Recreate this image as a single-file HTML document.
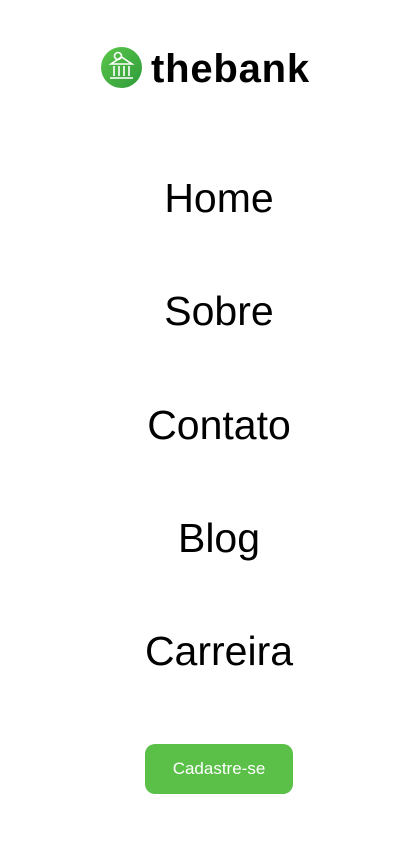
<!DOCTYPE html>
<html><head><style>
body{margin:0;width:408px;height:847px;background:#fff;font-family:"Liberation Sans",sans-serif;position:relative;overflow:hidden}
.logo{position:absolute;left:101px;top:47px;width:41px;height:41px;border-radius:50%;background:linear-gradient(135deg,#5cc84a,#2e9a3a)}
.brand{position:absolute;left:151px;top:47px;font-weight:bold;font-size:40px;letter-spacing:0.8px;color:#000}
.nav{position:absolute;left:0;width:438px;text-align:center;font-size:41px;color:#000}
.btn{position:absolute;left:145px;top:744px;width:148px;height:50px;border-radius:10px;background:#5ac047;color:#fff;font-size:17px;text-align:center;line-height:50px}
</style></head><body>
<div class="logo"><svg width="41" height="41" viewBox="0 0 41 41"><g fill="none" stroke="#fff" stroke-width="1.6"><path d="M10 17 L20.5 10 L31 17 Z"/><line x1="13" y1="19" x2="13" y2="29"/><line x1="18" y1="19" x2="18" y2="29"/><line x1="23" y1="19" x2="23" y2="29"/><line x1="28" y1="19" x2="28" y2="29"/><line x1="9" y1="31" x2="32" y2="31"/><circle cx="17" cy="9" r="3.5"/></g></svg></div>
<div class="brand">thebank</div>
<div class="nav" style="top:175px">Home</div>
<div class="nav" style="top:288px">Sobre</div>
<div class="nav" style="top:402px">Contato</div>
<div class="nav" style="top:515px">Blog</div>
<div class="nav" style="top:628px">Carreira</div>
<div class="btn">Cadastre-se</div>
</body></html>
